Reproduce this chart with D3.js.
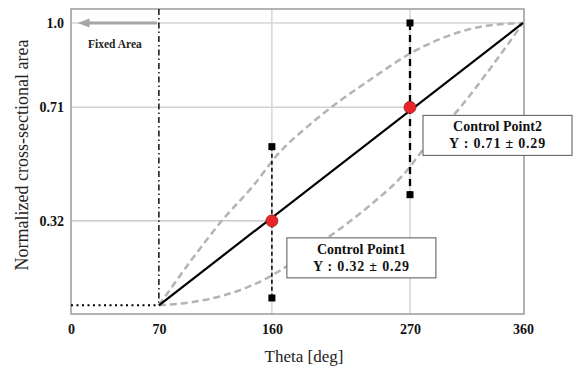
<!DOCTYPE html>
<html>
<head>
<meta charset="utf-8">
<script src="https://cdn.jsdelivr.net/npm/d3@7"></script>
<style>
  html, body { margin: 0; padding: 0; background: #fff; }
  svg { display: block; }
  text { font-family: "Liberation Serif", "Times New Roman", serif; }
  .bold { font-weight: bold; }
</style>
</head>
<body>
<svg id="chart" width="573" height="370"></svg>
<script>
// ---------- data ----------
const xTickValues = [0, 70, 160, 270, 360];
const yTickValues = [0.32, 0.71, 1.0];
const yTickLabels = ["0.32", "0.71", "1.0"];

const fixedTheta = [0, 70];
const fixedArea = [0.03, 0.03];

const linearTheta = [70, 360];
const linearArea = [0.03, 1.0];

const upperTheta = [70, 95, 120, 145, 165, 190, 215, 240, 270, 300, 330, 360];
const upperArea  = [0.03, 0.18, 0.32, 0.44, 0.55, 0.65, 0.735, 0.81, 0.895, 0.955, 0.99, 1.0];

const lowerTheta = [70, 95, 120, 145, 165, 190, 215, 240, 265, 285, 310, 335, 360];
const lowerArea  = [0.03, 0.04, 0.062, 0.10, 0.145, 0.22, 0.295, 0.38, 0.48, 0.59, 0.71, 0.85, 1.0];

const controlNames = ["Control Point1", "Control Point2"];
const controlTheta = [160, 270];
const controlArea  = [0.32, 0.71];
const controlUpper = [0.575, 1.0];
const controlLower = [0.055, 0.41];
const controlLabels = ["Y : 0.32 \u00B1 0.29", "Y : 0.71 \u00B1 0.29"];

const fixedLabel = "Fixed Area";
const xTitle = "Theta [deg]";
const yTitle = "Normalized cross-sectional area";

// ---------- layout ----------
const svg = d3.select("#chart");
const L = 71, R = 524, T = 9, B = 314;

const x = d3.scaleLinear().domain([0, 360]).range([71, 523]);
const y = d3.scaleLinear().domain([0, 1.048]).range([B, T]);

// grid / reference lines
const g = svg.append("g");
g.append("line").attr("x1", L).attr("x2", R).attr("y1", y(1.0)).attr("y2", y(1.0))
  .attr("stroke", "#d6d6d6").attr("stroke-width", 1.5);
g.append("line").attr("x1", L).attr("x2", x(controlTheta[1])).attr("y1", y(controlArea[1])).attr("y2", y(controlArea[1]))
  .attr("stroke", "#d2d2d2").attr("stroke-width", 1.5);
g.append("line").attr("x1", L).attr("x2", x(controlTheta[0])).attr("y1", y(controlArea[0])).attr("y2", y(controlArea[0]))
  .attr("stroke", "#b0b0b0").attr("stroke-width", 1);
controlTheta.forEach(t => {
  g.append("line").attr("x1", x(t)).attr("x2", x(t)).attr("y1", T).attr("y2", B)
    .attr("stroke", "#d6d6d6").attr("stroke-width", 1.5);
});

// frame
svg.append("rect").attr("x", L).attr("y", T).attr("width", R - L).attr("height", B - T)
  .attr("fill", "none").attr("stroke", "#9a9a9a").attr("stroke-width", 1.5);

// axes (labels only)
const xAxis = d3.axisBottom(x).tickValues(xTickValues).tickSize(0).tickPadding(10).tickFormat(d3.format("d"));
const yAxis = d3.axisLeft(y).tickValues(yTickValues).tickSize(0).tickPadding(7)
  .tickFormat((d, i) => yTickLabels[i]);
const gx = svg.append("g").attr("transform", `translate(0,${B})`).call(xAxis);
const gy = svg.append("g").attr("transform", `translate(${L},0)`).call(yAxis);
[gx, gy].forEach(a => {
  a.attr("font-family", null).attr("font-size", null);
  a.select(".domain").remove();
  a.selectAll("text").attr("class", "bold").attr("font-size", 14).attr("fill", "#111");
});

// fixed area vertical dash-dot
svg.append("line").attr("x1", x(70)).attr("x2", x(70)).attr("y1", T).attr("y2", y(0.03))
  .attr("stroke", "#000").attr("stroke-width", 1.4).attr("stroke-dasharray", "6,3,1.5,3");

// arrow
const arrowY = y(1.0);
svg.append("line").attr("x1", x(70) - 2).attr("x2", x(14)).attr("y1", arrowY).attr("y2", arrowY)
  .attr("stroke", "#a6a6a6").attr("stroke-width", 3);
svg.append("path")
  .attr("d", `M${x(14) - 11},${arrowY} L${x(14) + 1},${arrowY - 4.5} L${x(14) + 1},${arrowY + 4.5} Z`)
  .attr("fill", "#a6a6a6");
svg.append("text").attr("class", "bold").attr("x", 88).attr("y", 48).attr("font-size", 11.5)
  .attr("fill", "#222").text(fixedLabel);

const line = d3.line().x(d => x(d[0])).y(d => y(d[1]));
const curve = d3.line().x(d => x(d[0])).y(d => y(d[1])).curve(d3.curveMonotoneX);

// dashed gray curves
svg.append("path").datum(upperTheta.map((t, i) => [t, upperArea[i]])).attr("d", curve)
  .attr("fill", "none").attr("stroke", "#b4b4b4").attr("stroke-width", 2.5).attr("stroke-dasharray", "7,4");
svg.append("path").datum(lowerTheta.map((t, i) => [t, lowerArea[i]])).attr("d", curve)
  .attr("fill", "none").attr("stroke", "#b4b4b4").attr("stroke-width", 2.5).attr("stroke-dasharray", "7,4");

// fixed dotted baseline
svg.append("path").datum(fixedTheta.map((t, i) => [t, fixedArea[i]])).attr("d", line)
  .attr("fill", "none").attr("stroke", "#000").attr("stroke-width", 2).attr("stroke-dasharray", "2,3.5");

// linear solid
svg.append("path").datum(linearTheta.map((t, i) => [t, linearArea[i]])).attr("d", line)
  .attr("fill", "none").attr("stroke", "#000").attr("stroke-width", 2.2);

// error bars
const ebWidth = [1.5, 2.3], ebDash = ["4,3", "7,5"];
controlTheta.forEach((t, i) => {
  svg.append("line").attr("x1", x(t)).attr("x2", x(t))
    .attr("y1", y(controlUpper[i])).attr("y2", y(controlLower[i]))
    .attr("stroke", "#000").attr("stroke-width", ebWidth[i]).attr("stroke-dasharray", ebDash[i]);
  [controlUpper[i], controlLower[i]].forEach(v => {
    svg.append("rect").attr("x", x(t) - 3.5).attr("y", y(v) - 3.5).attr("width", 7).attr("height", 7)
      .attr("fill", "#000");
  });
});

// control points
controlTheta.forEach((t, i) => {
  svg.append("circle").attr("cx", x(t)).attr("cy", y(controlArea[i])).attr("r", 6)
    .attr("fill", "#e8262a").attr("stroke", "#9b1b1b").attr("stroke-width", 0.8);
});

// annotation boxes
const boxOff = [[15, 17], [13, 8]];
controlTheta.forEach((t, i) => {
  const bx = x(t) + boxOff[i][0], by = y(controlArea[i]) + boxOff[i][1];
  const bw = 149, bh = 40;
  svg.append("rect").attr("x", bx).attr("y", by).attr("width", bw).attr("height", bh)
    .attr("fill", "#fff").attr("stroke", "#555").attr("stroke-width", 1);
  svg.append("text").attr("class", "bold").attr("x", bx + bw / 2).attr("y", by + 16).attr("text-anchor", "middle")
    .attr("font-size", 14).attr("fill", "#111").text(controlNames[i]);
  svg.append("text").attr("class", "bold").attr("x", bx + bw / 2).attr("y", by + 33).attr("text-anchor", "middle")
    .attr("font-size", 14).attr("letter-spacing", 0.8)
    .attr("fill", "#111").text(controlLabels[i]);
});

// axis titles
svg.append("text").attr("x", 304).attr("y", 362).attr("text-anchor", "middle")
  .attr("font-size", 17).attr("fill", "#222").text(xTitle);
svg.append("text").attr("transform", `translate(28,155) rotate(-90)`).attr("text-anchor", "middle")
  .attr("font-size", 18).attr("fill", "#222").text(yTitle);
</script>
</body>
</html>
